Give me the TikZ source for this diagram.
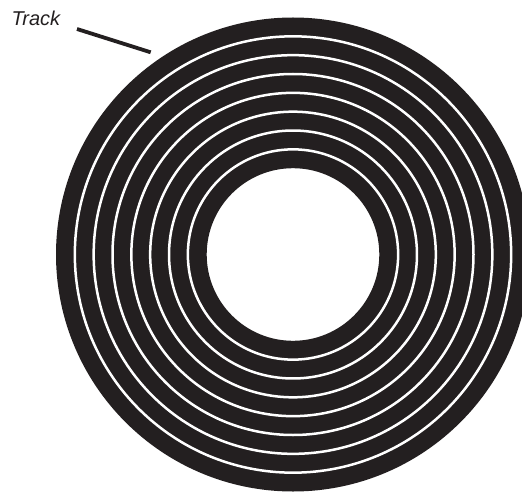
\documentclass[tikz,border=0pt]{standalone}
\usepackage{fontspec}
\setmainfont{Liberation Sans}
\definecolor{ink}{RGB}{35,31,32}
\tikzset{
  disc/.style={fill=ink, even odd rule},
  groove/.style={draw=white, line width=2.5pt},
  leader/.style={draw=ink, line width=3.8pt},
  labeltext/.style={font=\fontsize{20}{23}\selectfont\itshape, text=ink, inner sep=0pt}
}
\begin{document}
\begin{tikzpicture}[x=1pt,y=1pt]
\useasboundingbox (0,0) rectangle (522,491);
\clip (0,0) rectangle (522,491);
\coordinate (c) at (293,236.5);
\fill[disc] (c) circle[radius=237] (c) circle[radius=86.3];
\foreach \k in {1,...,7}{
  \draw[groove] (c) circle[radius={86.3+18.84*\k}];
}
\node[labeltext, anchor=base west] (label) at (11.5,465) {Track};
\coordinate (lstart) at (77,462);
\coordinate (ltip) at (150.7,438.7);
\draw[leader] (lstart) -- (ltip);
\end{tikzpicture}
\end{document}
